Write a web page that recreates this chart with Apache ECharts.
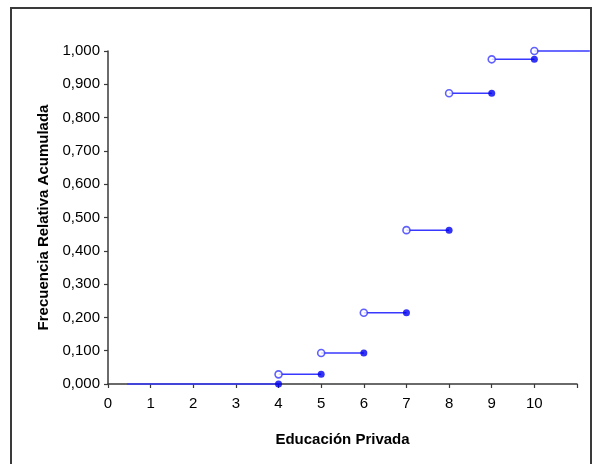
<!DOCTYPE html>
<html>
<head>
<meta charset="utf-8">
<script src="https://cdn.jsdelivr.net/npm/echarts@6/dist/echarts.min.js"></script>
<style>
html,body{margin:0;padding:0;background:#fff;}
#chart{width:592px;height:464px;}
</style>
</head>
<body>
<div id="chart"></div>
<script>
// Step function data (empirical cumulative relative frequency)
const stepStarts = [0.45, 4, 5, 6, 7, 8, 9, 10];
const stepEnds   = [4, 5, 6, 7, 8, 9, 10, 11.3];
const cumFreq    = [0.000, 0.029, 0.093, 0.214, 0.462, 0.873, 0.975, 1.000];
const xTitle = 'Educación Privada';
const yTitle = 'Frecuencia Relativa Acumulada';

const lineColor = '#3838ff';
const dotColor = '#0000f0';
const font = 'Liberation Sans, Arial, sans-serif';

// main grid geometry and an overlay grid reaching the frame edge (same scale)
const gLeft = 108, gRight = 15, gTop = 51, gBottom = 80, W = 592;
const xMax = 11;
const overlayRight = 2;
const xMax2 = xMax * (W - overlayRight - gLeft) / (W - gRight - gLeft);

const series = [];
stepStarts.forEach((s, i) => {
  series.push({
    type: 'line',
    xAxisIndex: 1, yAxisIndex: 1,
    data: [[s, cumFreq[i]], [stepEnds[i], cumFreq[i]]],
    showSymbol: false,
    symbol: 'none',
    clip: false,
    lineStyle: { color: lineColor, width: 1.5 },
    silent: true,
    z: 2
  });
});
const openPts = stepStarts.slice(1).map((s, i) => [s, cumFreq[i + 1]]);
const closedPts = stepEnds.slice(0, -1).map((e, i) => [e, cumFreq[i]]);
series.push({
  type: 'scatter',
  data: openPts,
  symbol: 'circle',
  symbolSize: 7,
  clip: false,
  itemStyle: { color: '#ffffff', borderColor: lineColor, borderWidth: 1.6 },
  z: 4
});
series.push({
  type: 'scatter',
  data: closedPts,
  symbol: 'circle',
  symbolSize: 7,
  clip: false,
  itemStyle: { color: dotColor },
  z: 4
});

const chart = echarts.init(document.getElementById('chart'));
chart.setOption({
  animation: false,
  backgroundColor: '#ffffff',
  graphic: [{
    type: 'rect',
    shape: { x: 11, y: 8, width: 580, height: 470 },
    style: { fill: 'none', stroke: '#3a3a3a', lineWidth: 2 },
    silent: true,
    z: 0
  }],
  grid: [
    { left: gLeft, right: gRight, top: gTop, bottom: gBottom },
    { left: gLeft, right: overlayRight, top: gTop, bottom: gBottom }
  ],
  xAxis: [{
    type: 'value',
    gridIndex: 0,
    min: 0, max: xMax, interval: 1,
    name: xTitle,
    nameLocation: 'middle',
    nameGap: 48,
    nameTextStyle: { fontFamily: font, fontSize: 15, fontWeight: 'bold', color: '#000' },
    axisLine: { lineStyle: { color: '#3a3a3a', width: 1.5 } },
    axisTick: { inside: false, length: 4, lineStyle: { color: '#3a3a3a', width: 1.2 } },
    axisLabel: {
      margin: 12,
      fontFamily: font, fontSize: 15, color: '#000',
      formatter: v => (v <= 10 && Math.abs(v - Math.round(v)) < 1e-9) ? String(v) : ''
    },
    splitLine: { show: false }
  }, {
    type: 'value',
    gridIndex: 1,
    min: 0, max: xMax2,
    show: false
  }],
  yAxis: [{
    type: 'value',
    gridIndex: 0,
    min: 0, max: 1, interval: 0.1,
    name: yTitle,
    nameLocation: 'middle',
    nameGap: 54,
    nameRotate: 90,
    nameTextStyle: { fontFamily: font, fontSize: 15, fontWeight: 'bold', color: '#000' },
    axisLine: { show: true, lineStyle: { color: '#3a3a3a', width: 1.5 } },
    axisTick: { show: true, inside: false, length: 4, lineStyle: { color: '#3a3a3a', width: 1.2 } },
    axisLabel: {
      margin: 8,
      fontFamily: font, fontSize: 15, color: '#000',
      formatter: v => v.toFixed(3).replace('.', ',')
    },
    splitLine: { show: false }
  }, {
    type: 'value',
    gridIndex: 1,
    min: 0, max: 1,
    show: false
  }],
  series: series
});
</script>
</body>
</html>
